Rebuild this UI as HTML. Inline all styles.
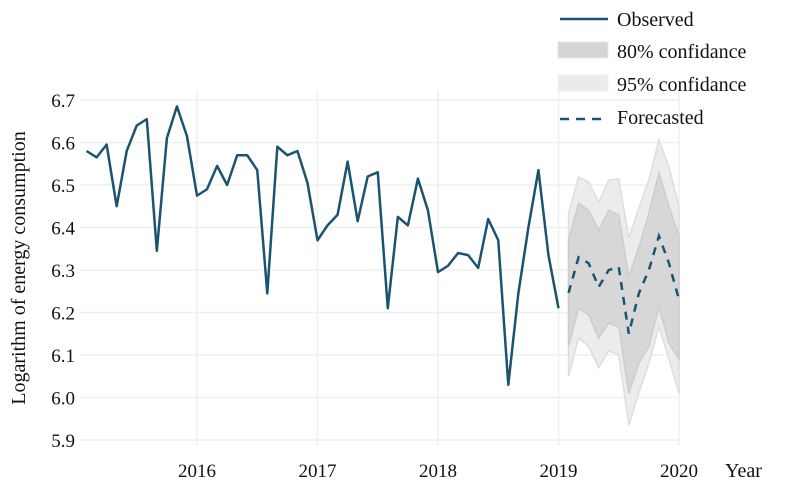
<!DOCTYPE html>
<html><head><meta charset="utf-8"><style>
body{margin:0;background:#fff}
svg text{font-family:"Liberation Serif",serif;fill:#111}
</style></head><body>
<svg id="chart" width="786" height="497" viewBox="0 0 786 497" xmlns="http://www.w3.org/2000/svg">
<g id="grid"></g>
<g id="bands"></g>
<g id="series"></g>
<g id="axes"></g>
<text transform="translate(25,268) rotate(-90)" text-anchor="middle" font-size="20">Logarithm of energy consumption</text>
<text x="725" y="477" font-size="20">Year</text>
<g>
 <g><line x1="560" y1="19" x2="608" y2="19" stroke="#1b5470" stroke-width="2.5"/><text x="617" y="26" font-size="20">Observed</text></g>
 <g><rect x="558" y="42" width="50" height="16" fill="#d4d4d4" stroke="#e6e6e6"/><text x="617" y="58" font-size="20">80% confidance</text></g>
 <g><rect x="558" y="75" width="50" height="16" fill="#ebebeb" stroke="#f2f2f2"/><text x="617" y="91" font-size="20">95% confidance</text></g>
 <g><line x1="560" y1="119" x2="608" y2="119" stroke="#1b5470" stroke-width="2.5" stroke-dasharray="9,7"/><text x="617" y="124" font-size="20">Forecasted</text></g>
</g>
</svg>
<script>
const observed=[6.58,6.565,6.595,6.45,6.58,6.64,6.655,6.345,6.61,6.685,6.615,6.475,6.49,6.545,6.50,6.57,6.57,6.535,6.245,6.59,6.57,6.58,6.505,6.37,6.405,6.43,6.555,6.415,6.52,6.53,6.21,6.425,6.405,6.515,6.44,6.295,6.31,6.34,6.335,6.305,6.42,6.37,6.03,6.245,6.40,6.535,6.335,6.21];
const forecast=[6.246,6.33,6.316,6.26,6.30,6.307,6.15,6.245,6.30,6.38,6.316,6.23];
const upper80=[6.37,6.457,6.44,6.394,6.44,6.43,6.284,6.354,6.434,6.528,6.45,6.38];
const lower80=[6.12,6.21,6.194,6.14,6.175,6.166,6.01,6.08,6.12,6.213,6.128,6.09];
const upper95=[6.434,6.519,6.507,6.46,6.512,6.514,6.375,6.446,6.512,6.606,6.542,6.45];
const lower95=[6.05,6.14,6.12,6.07,6.11,6.10,5.935,6.01,6.08,6.166,6.09,6.01];
const yTicks=[5.9,6.0,6.1,6.2,6.3,6.4,6.5,6.6,6.7];
const xTicks=[2016,2017,2018,2019,2020];
const obsStart=2015+1/12, fcStart=2019+1/12;
const X=t=>197+(t-2016)*120.5;
const Y=v=>185-(v-6.5)*425;
const NS='http://www.w3.org/2000/svg';
function mk(tag,parent,attrs){const e=document.createElementNS(NS,tag);for(const k in attrs)e.setAttribute(k,attrs[k]);parent.appendChild(e);return e;}
const grid=document.getElementById('grid'),axes=document.getElementById('axes'),bands=document.getElementById('bands'),series=document.getElementById('series');
yTicks.forEach(v=>{
 const l=mk('line',grid,{x1:80,x2:680,y1:Y(v),y2:Y(v),stroke:'#efefef','stroke-width':1.5});
 
 
 const t=mk('text',axes,{x:75,y:Y(v)+7,'text-anchor':'end','font-size':19});
 
 
 t.textContent=v.toFixed(1);
});
xTicks.forEach(yr=>{
 const l=mk('line',grid,{x1:X(yr),x2:X(yr),y1:90,y2:445,stroke:'#efefef','stroke-width':1.5});
 
 
 const t=mk('text',axes,{x:X(yr),y:477,'text-anchor':'middle','font-size':19});
 
 
 t.textContent=yr;
});
function band(up,lo,fill,stroke,name){
 const pts=up.map((v,i)=>X(fcStart+i/12)+','+Y(v)).concat(lo.map((v,i)=>[i,v]).reverse().map(([i,v])=>X(fcStart+i/12)+','+Y(v)));
 const p=mk('polygon',bands,{points:pts.join(' '),fill:fill,stroke:stroke,'stroke-width':1.5});
 
 
}
band(upper95,lower95,'#ececec','#dedede','band-95');
band(upper80,lower80,'#d7d7d7','#cdcdcd','band-80');
const o=mk('polyline',series,{points:observed.map((v,i)=>X(obsStart+i/12)+','+Y(v)).join(' '),fill:'none',stroke:'#1b5470','stroke-width':2.5,'stroke-linejoin':'round'});


const f=mk('polyline',series,{points:forecast.map((v,i)=>X(fcStart+i/12)+','+Y(v)).join(' '),fill:'none',stroke:'#1b5470','stroke-width':2.5,'stroke-dasharray':'8,7'});


</script>
</body></html>
